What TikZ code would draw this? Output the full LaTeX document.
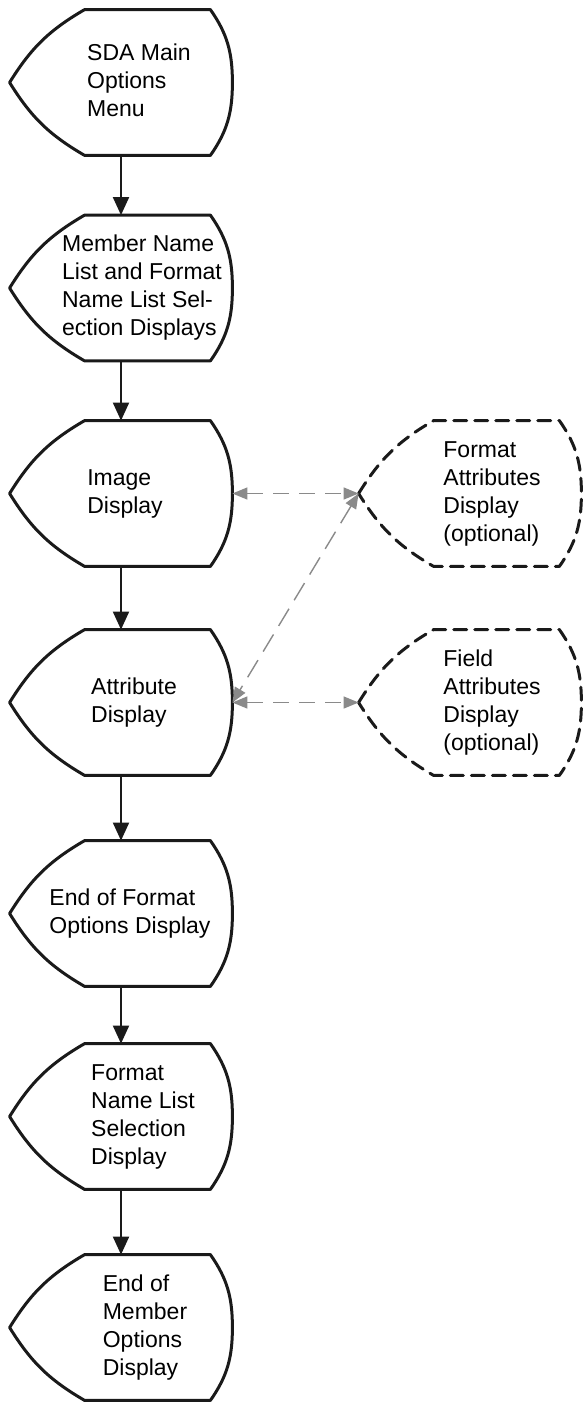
\documentclass[tikz,border=0pt]{standalone}
\usepackage{fontspec}
\setmainfont{Liberation Sans}
\usetikzlibrary{arrows.meta,calc}
\definecolor{ink}{HTML}{1A1A1A}
\definecolor{faint}{HTML}{8A8A8A}
\tikzset{disp/.style={minimum width=111pt,minimum height=72.5pt,inner sep=0pt,font=\fontsize{11.5}{14}\selectfont},outline/.style={draw=ink,line width=1.5pt,line join=round},flow/.style={-{Triangle[length=9pt,width=8pt]},draw=ink,line width=1pt},opt/.style={{Triangle[length=7.5pt,width=6pt]}-{Triangle[length=7.5pt,width=6pt]},draw=faint,line width=.7pt,dash pattern=on 8pt off 5pt}}
% display symbol: point on the left, bulge on the right
\newcommand\dispath[1]{(#1.west) to[bend left=14] ($(#1.north west)+(75,0)$) -- ($(#1.north east)+(-22,0)$) to[out=-55,in=90] (#1.east) to[out=-90,in=55] ($(#1.south east)+(-22,0)$) -- ($(#1.south west)+(75,0)$) to[bend left=14] cycle}
% text block pushed right inside the symbol
\newcommand\disptext[2]{\hspace*{#1pt}\begin{tabular}{@{}l@{}}#2\end{tabular}}
\begin{document}
\begin{tikzpicture}[x=0.5pt,y=0.5pt]
\useasboundingbox (0,0) rectangle (585,-1403);
\foreach \y/\dx/\id/\txt in {82.5/18/menu/{SDA Main\\Options\\Menu},288/21/names/{Member Name\\List and Format\\Name List Sel-\\ection Displays},493.5/4/img/{Image\\Display},702.5/13/attr/{Attribute\\Display},913.5/9/endfmt/{End of Format\\Options Display},1116.5/22/fmtlist/{Format\\Name List\\Selection\\Display},1327.5/24/endmem/{End of\\Member\\Options\\Display}}{\node[disp] (\id) at (121,-\y) {\disptext{\dx}{\txt}};\draw[outline] \dispath{\id};}
\foreach \y/\dx/\id/\txt in {493.5/22/fmtattr/{Format\\Attributes\\Display\\(optional)},702.5/22/fldattr/{Field\\Attributes\\Display\\(optional)}}{\node[disp] (\id) at (470,-\y) {\disptext{\dx}{\txt}};\draw[outline,dash pattern=on 6.5pt off 4pt,line cap=round] \dispath{\id};}
\foreach \a/\b in {menu/names,names/img,img/attr,attr/endfmt,endfmt/fmtlist,fmtlist/endmem}{\draw[flow] (\a) -- (\b);}
\draw[opt] (img.east) -- (fmtattr.west);
\draw[opt] (attr.east) -- (fldattr.west);
\draw[opt,dash pattern=on 10pt off 5pt] (fmtattr.west) -- (attr.east);
\end{tikzpicture}
\end{document}
